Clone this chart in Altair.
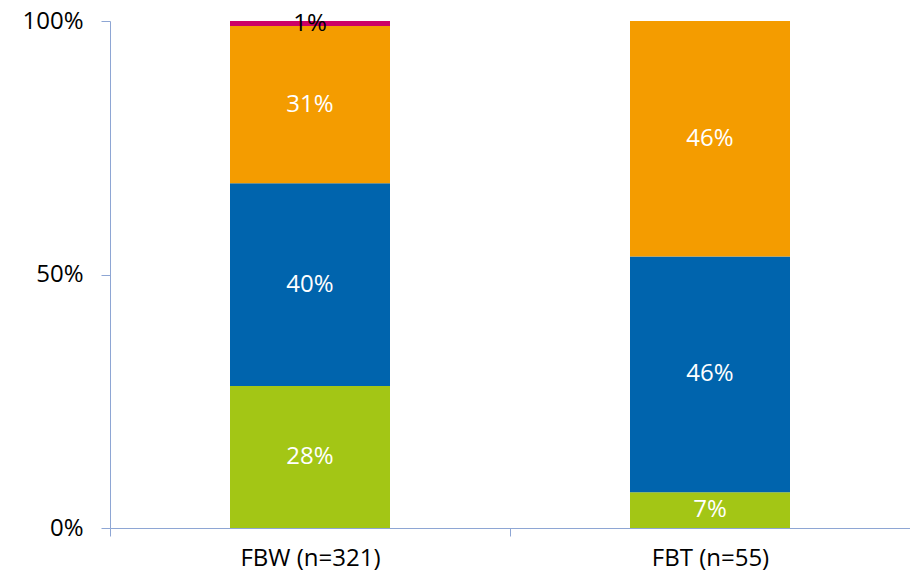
import altair as alt
import pandas as pd

categories = ["FBW (n=321)", "FBT (n=55)"]
series = ["S1", "S2", "S3", "S4"]
values_fbw = [28, 40, 31, 1]
values_fbt = [7, 46, 46, 0]
colors = ["#A3C615", "#0064AD", "#F49C00", "#CC0066"]
label_colors = ["white", "white", "white", "black"]

rows = []
for cat, vals in zip(categories, [values_fbw, values_fbt]):
    for i, (s, v) in enumerate(zip(series, vals)):
        if v > 0:
            rows.append({"cat": cat, "series": s, "order": i, "value": v,
                         "label": f"{v}%", "lcolor": label_colors[i]})
df = pd.DataFrame(rows)

FONT = "Open Sans"
axis_color = "#8EA6D4"

base = alt.Chart(df).transform_stack(
    stack="value", groupby=["cat"], as_=["v0", "v1"], offset="normalize",
    sort=[alt.SortField("order", order="ascending")]
).transform_calculate(mid="(datum.v0 + datum.v1) / 2")

xenc = alt.X("cat:N", sort=categories, title=None,
             scale=alt.Scale(paddingInner=0, paddingOuter=0),
             axis=alt.Axis(labelAngle=0, tickBand="extent", domainColor=axis_color,
                           tickColor=axis_color, tickSize=8, labelPadding=10,
                           labelFontSize=24, labelFont=FONT, labelColor="black"))

bars = base.mark_bar(width={"band": 0.4}).encode(
    x=xenc,
    y=alt.Y("v0:Q", scale=alt.Scale(domain=[0, 1]), title=None,
            axis=alt.Axis(values=[0, 0.5, 1], format=".0%", grid=False,
                          domainColor=axis_color, tickColor=axis_color, tickSize=9,
                          labelPadding=18, labelFontSize=24, labelFont=FONT,
                          labelColor="black")),
    y2="v1:Q",
    color=alt.Color("series:N", scale=alt.Scale(domain=series, range=colors), legend=None),
)

texts = base.mark_text(fontSize=24, font=FONT, baseline="middle").encode(
    x=alt.X("cat:N", sort=categories),
    y=alt.Y("mid:Q"),
    text="label:N",
    color=alt.Color("lcolor:N", scale=None),
)

chart = alt.layer(bars, texts).properties(
    width=800, height=507,
    autosize=alt.AutoSizeParams(type="none"),
    padding={"left": 102, "top": 13, "right": 0, "bottom": 45},
).configure_view(stroke=None)

chart.save("out.html", embed_options={"renderer": "svg", "actions": False})
